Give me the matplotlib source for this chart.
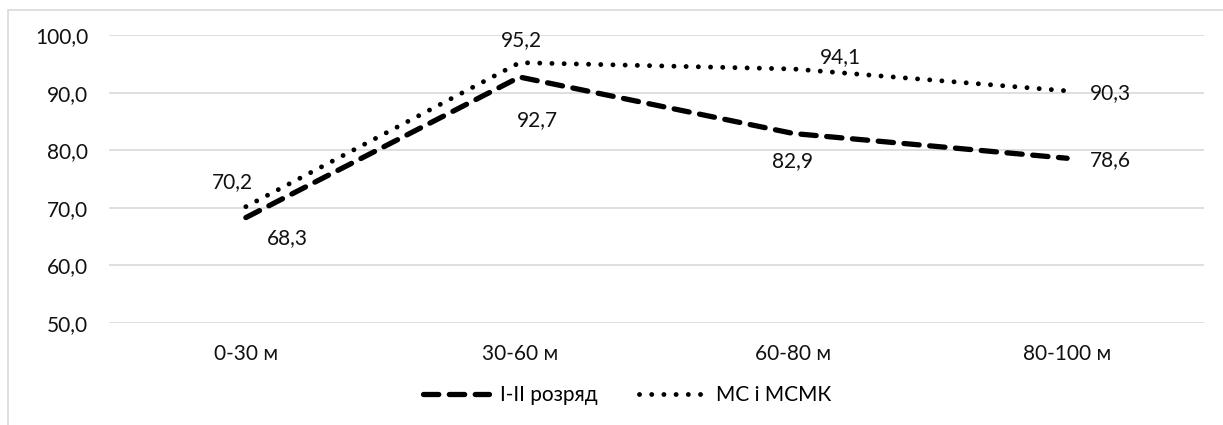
import matplotlib
matplotlib.use("Agg")
import matplotlib.pyplot as plt
from matplotlib.patches import Rectangle

plt.rcParams['font.family'] = ['Lato', 'DejaVu Sans']

categorias = ['0-30 м', '30-60 м', '60-80 м', '80-100 м']
rozriad = [68.3, 92.7, 82.9, 78.6]
ms_msmk = [70.2, 95.2, 94.1, 90.3]
y_ticks = [50, 60, 70, 80, 90, 100]

FS = 15

fig = plt.figure(figsize=(12.23, 4.25), dpi=100)
ax = fig.add_axes([109 / 1223, 1 - 323 / 425, (1204 - 109) / 1223, (323 - 35) / 425])

# рамка області діаграми (права і нижня межі обрізані)
fig.patches.append(Rectangle((8 / 1223, -0.1), 1.2, 1 - 10 / 425 + 0.1,
                             transform=fig.transFigure, fill=False,
                             edgecolor='#d9d9d9', linewidth=1.2))

x = list(range(len(categorias)))
ax.plot(x, rozriad, color='black', linewidth=3.8, linestyle=(0, (2.9, 2.0)),
        dash_capstyle='round', label='I-II розряд')
ax.plot(x, ms_msmk, color='black', linewidth=3.5, linestyle=(0, (0.01, 2.5)),
        dash_capstyle='round', label='МС і МСМК')

ax.set_xlim(-0.5, len(categorias) - 0.5)
ax.set_ylim(50, 100)
ax.set_yticks(y_ticks)
ax.set_yticklabels([f'{v:.1f}'.replace('.', ',') for v in y_ticks])
ax.set_xticks(x)
ax.set_xticklabels(categorias)
ax.tick_params(axis='both', length=0, labelsize=FS, colors='#111111')
ax.tick_params(axis='y', pad=15)
ax.tick_params(axis='x', pad=15)
ax.grid(axis='y', color='#d9d9d9', linewidth=1.2)
ax.set_axisbelow(True)
for s in ax.spines.values():
    s.set_visible(False)

# підписи значень
off_r = [(41, -21), (18, -43), (-1, -28), (43, -2)]
off_m = [(-13, 25), (2, 23), (47, 12), (43, -2)]
for i in x:
    ax.annotate(f'{rozriad[i]:.1f}'.replace('.', ','), (i, rozriad[i]),
                xytext=off_r[i], textcoords='offset pixels',
                ha='center', va='center', fontsize=FS, color='#111111')
    ax.annotate(f'{ms_msmk[i]:.1f}'.replace('.', ','), (i, ms_msmk[i]),
                xytext=off_m[i], textcoords='offset pixels',
                ha='center', va='center', fontsize=FS, color='#111111')

fig.legend(loc='center', bbox_to_anchor=(627 / 1223, 1 - 395 / 425), ncol=2,
           frameon=False, fontsize=FS, handlelength=3.2, columnspacing=2.0,
           handletextpad=0.5)

fig.savefig('out.png', dpi=100)
